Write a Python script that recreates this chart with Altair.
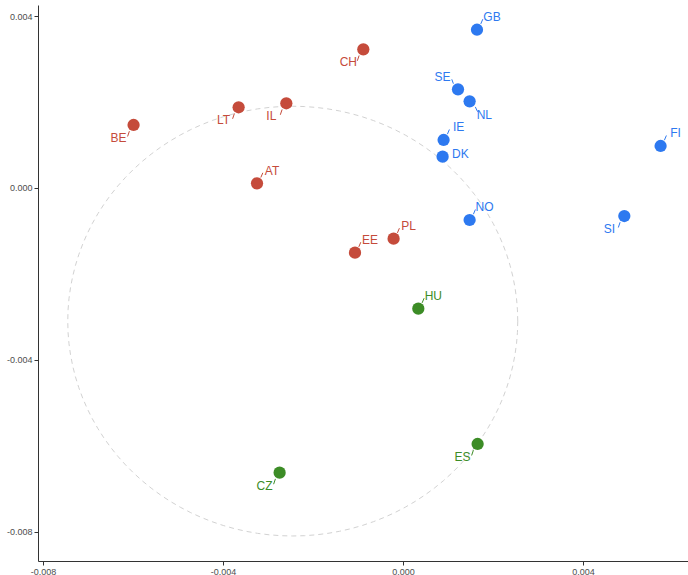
import altair as alt
import pandas as pd

# Country scores on the two leading dimensions
countries = ["GB", "SE", "NL", "IE", "DK", "NO", "FI", "SI",
             "CH", "LT", "IL", "BE", "AT", "PL", "EE",
             "HU", "ES", "CZ"]
dim1 = [0.001644, 0.001222, 0.001480, 0.000902, 0.000880, 0.001480, 0.005724, 0.004918,
        -0.000882, -0.003653, -0.002593, -0.005987, -0.003244, -0.000209, -0.001067,
        0.000340, 0.001658, -0.002742]
dim2 = [0.003681, 0.002294, 0.002015, 0.001115, 0.000726, -0.000747, 0.000975, -0.000654,
        0.003225, 0.001876, 0.001969, 0.001464, 0.000107, -0.001182, -0.001508,
        -0.002811, -0.005959, -0.006627]
cluster = ["1"] * 8 + ["2"] * 7 + ["3"] * 3

# Which side of the point each label sits on
label_side = ["ur", "ul", "lr", "ur", "r", "ur", "ur", "ll",
              "ll", "ll", "ll", "ll", "ur", "ur", "ur",
              "ur", "ll", "ll"]

# Reference circle
circle_center = (-0.00245, -0.0031)
circle_radius = 0.005

df = pd.DataFrame({"country": countries, "x": dim1, "y": dim2,
                   "cluster": cluster, "side": label_side})

FONT = "Liberation Sans"
colors = alt.Scale(domain=["1", "2", "3"], range=["#2d79f0", "#c54b3b", "#3c8c26"])

x_scale = alt.Scale(domain=[-0.008111, 0.006333], nice=False, zero=False)
y_scale = alt.Scale(domain=[-0.008682, 0.004256], nice=False, zero=False)

label_expr = "replace(format(datum.value, '.3f'), '\u2212', '-')"
axis_common = dict(grid=False, title=None, domainColor="#333333", tickColor="#333333",
                   domainWidth=1, tickWidth=1, tickSize=4, labelPadding=2,
                   labelColor="#4d4d4d", labelFont=FONT, labelFontSize=9,
                   labelExpr=label_expr)
x_axis = alt.Axis(values=[-0.008, -0.004, 0.0, 0.004], **axis_common)
y_axis = alt.Axis(values=[-0.008, -0.004, 0.0, 0.004], **axis_common)

X = alt.X("x:Q", scale=x_scale, axis=x_axis)
Y = alt.Y("y:Q", scale=y_scale, axis=y_axis)
C = alt.Color("cluster:N", scale=colors, legend=None)

circle = (
    alt.Chart(alt.sequence(0, 361, 3, as_="t"))
    .transform_calculate(
        cx=f"{circle_center[0]} + {circle_radius} * cos(datum.t * PI / 180)",
        cy=f"{circle_center[1]} + {circle_radius} * sin(datum.t * PI / 180)",
    )
    .mark_line(color="#d2d2d2", strokeWidth=1, strokeDash=[5, 4])
    .encode(x=alt.X("cx:Q", scale=x_scale, axis=x_axis),
            y=alt.Y("cy:Q", scale=y_scale, axis=y_axis),
            order="t:Q")
)

points = alt.Chart(df).mark_circle(size=150, opacity=1).encode(x=X, y=Y, color=C)

# label offsets (text dx/dy) and connector segment offsets per side
text_offsets = {"ur": (15, -12.5), "ul": (-15.5, -12.3), "lr": (14.7, 13.7),
                "ll": (-15, 13), "r": (17.7, -2.4)}
seg_offsets = {"ur": (3.8, -5.8, 5.8, -10.5), "ul": (-4.6, -5.6, -6.2, -10),
               "lr": (5.7, 5.6, 8, 10.4), "ll": (-4.2, 6.2, -6, 11.5)}

layers = [circle, points]
for side, (dx, dy) in text_offsets.items():
    sub = alt.Chart(df).transform_filter(alt.datum.side == side)
    if side in seg_offsets:
        x0, y0, x1, y1 = seg_offsets[side]
        layers.append(
            sub.mark_rule(strokeWidth=1, xOffset=x0, yOffset=y0, x2Offset=x1, y2Offset=y1)
            .encode(x=X, y=Y, x2="x:Q", y2="y:Q", color=C)
        )
    layers.append(
        sub.mark_text(font=FONT, fontSize=12, dx=dx, dy=dy, align="center",
                      baseline="middle")
        .encode(x=X, y=Y, text="country:N", color=C)
    )

chart = (
    alt.layer(*layers)
    .properties(width=650, height=556,
                autosize=alt.AutoSizeParams(type="none"),
                padding={"left": 38, "top": 5, "right": 0, "bottom": 14},
                background="white")
    .configure_view(strokeWidth=0)
)

chart.save("out.html", embed_options={"renderer": "svg", "actions": False})
